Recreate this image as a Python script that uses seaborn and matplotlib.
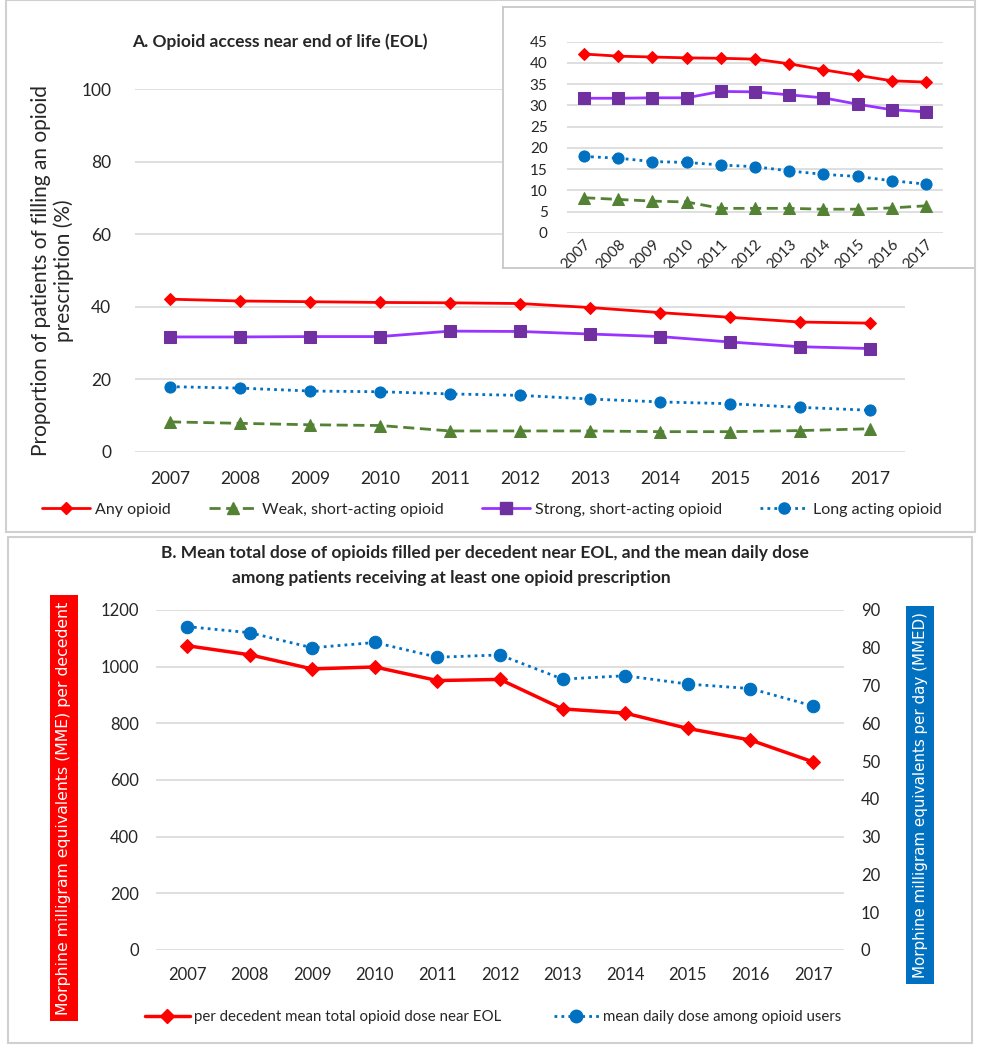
import matplotlib
matplotlib.use("Agg")
import matplotlib.pyplot as plt
import seaborn as sns
import numpy as np
from matplotlib.patches import Rectangle
from matplotlib.lines import Line2D
from matplotlib.transforms import Bbox, TransformedBbox

years = [2007, 2008, 2009, 2010, 2011, 2012, 2013, 2014, 2015, 2016, 2017]

# panel A: % of patients filling an opioid prescription
any_opioid = [42.1, 41.6, 41.4, 41.2, 41.1, 40.9, 39.8, 38.4, 37.1, 35.8, 35.5]
weak_short = [8.3, 7.9, 7.5, 7.3, 5.8, 5.8, 5.8, 5.6, 5.6, 5.9, 6.4]
strong_short = [31.7, 31.7, 31.8, 31.8, 33.3, 33.2, 32.5, 31.8, 30.3, 29.0, 28.5]
long_acting = [18.0, 17.6, 16.8, 16.6, 16.0, 15.6, 14.6, 13.8, 13.3, 12.3, 11.5]

# panel B: doses
mme_per_decedent = [1074, 1042, 992, 999, 951, 955, 851, 836, 782, 741, 664]
mmed_per_day = [85.6, 84.0, 80.0, 81.4, 77.5, 78.1, 71.7, 72.6, 70.4, 69.2, 64.6]

labels_a = ["Any opioid", "Weak, short-acting opioid",
            "Strong, short-acting opioid", "Long acting opioid"]
labels_b = ["per decedent mean total opioid dose near EOL",
            "mean daily dose among opioid users"]

RED = "#ff0000"
GREEN = "#548235"
PURPLE_LINE = "#9933ff"
PURPLE_MK = "#7030a0"
BLUE = "#0070c0"
GRID = "#d9d9d9"

sns.set_theme(style="white")
plt.rcParams["font.family"] = ["Lato", "DejaVu Sans"]

W, H = 981, 1050
fig = plt.figure(figsize=(W / 100, H / 100), dpi=100)


def rect(x0, y0, x1, y1):
    # pixel box (top-left origin) -> figure fraction [l, b, w, h]
    return [x0 / W, 1 - y1 / H, (x1 - x0) / W, (y1 - y0) / H]


def style_ax(ax):
    for s in ax.spines.values():
        s.set_visible(False)
    ax.grid(axis="y", color=GRID, lw=1.2)
    ax.grid(axis="x", visible=False)
    ax.set_axisbelow(True)
    ax.tick_params(length=0)


series_a = [
    (any_opioid, RED, RED, "D", 6, "-"),
    (weak_short, GREEN, GREEN, "^", 8, (0, (4, 2))),
    (strong_short, PURPLE_LINE, PURPLE_MK, "s", 8, "-"),
    (long_acting, BLUE, BLUE, "o", 8, (0, (1, 1.5))),
]

# panel frames
fig.patches.append(Rectangle((6 / W, 1 - 532 / H), 969 / W, 532 / H, transform=fig.transFigure,
                             fill=False, ec="#d0d0d0", lw=1.5))
fig.patches.append(Rectangle((8 / W, 1 - 1043 / H), 964 / W, 506 / H, transform=fig.transFigure,
                             fill=False, ec="#d0d0d0", lw=1.5))

# ---------- panel A main ----------
ax_a = fig.add_axes(rect(135, 89, 905, 452))
for (vals, lc, mc, mk, ms, ls), lab in zip(series_a, labels_a):
    sns.lineplot(x=years, y=vals, ax=ax_a, color=lc, marker=mk, markersize=ms,
                 markerfacecolor=mc, markeredgecolor=mc, linestyle=ls, lw=2, label=lab)
ax_a.get_legend().remove()
ax_a.set_xlim(2006.5, 2017.5)
ax_a.set_ylim(0, 100)
ax_a.set_yticks(range(0, 101, 20))
ax_a.set_xticks(years)
ax_a.set_xticklabels([str(y) for y in years])
style_ax(ax_a)
ax_a.tick_params(axis="x", pad=14, labelsize=12.5)
ax_a.tick_params(axis="y", pad=17, labelsize=12.5)
ax_a.set_ylabel("Proportion of patients of filling an opioid\nprescription (%)", fontsize=15, labelpad=5)
fig.text(280 / W, 1 - 42 / H, "A. Opioid access near end of life (EOL)", ha="center", va="center",
         fontsize=12.5, fontweight="bold")

# ---------- inset ----------
ax_box = fig.add_axes(rect(503, 7, 975, 268))
ax_box.set_xticks([])
ax_box.set_yticks([])
ax_box.set_facecolor("white")
for s in ax_box.spines.values():
    s.set_color("#c8c8c8")
    s.set_linewidth(1.3)

ax_in = fig.add_axes(rect(567, 41.7, 943, 233))
for vals, lc, mc, mk, ms, ls in series_a:
    sns.lineplot(x=years, y=vals, ax=ax_in, color=lc, marker=mk, markersize=ms,
                 markerfacecolor=mc, markeredgecolor=mc, linestyle=ls, lw=2)
ax_in.set_xlim(2006.5, 2017.5)
ax_in.set_ylim(0, 45)
ax_in.set_yticks(range(0, 46, 5))
ax_in.set_xticks(years)
ax_in.set_xticklabels([str(y) for y in years], rotation=45, ha="right", rotation_mode="anchor")
style_ax(ax_in)
ax_in.tick_params(axis="x", pad=3, labelsize=11)
ax_in.tick_params(axis="y", pad=14, labelsize=11)
clip = TransformedBbox(Bbox([[503 / W, 1 - 268 / H], [975 / W, 1 - 7 / H]]), fig.transFigure)
for lbl in ax_in.get_xticklabels():
    lbl.set_clip_box(clip)
    lbl.set_clip_on(True)

# legend A
handles_a = [Line2D([], [], color=lc, marker=mk, markersize=ms, markerfacecolor=mc,
                    markeredgecolor=mc, linestyle=ls, lw=2)
             for _, lc, mc, mk, ms, ls in series_a]
fig.legend(handles_a, labels_a, loc="center", bbox_to_anchor=(492 / W, 1 - 510 / H), ncol=4,
           frameon=False, fontsize=11.5, handlelength=3.0, columnspacing=2.4, handletextpad=0.3)

# ---------- panel B ----------
ax_b = fig.add_axes(rect(155.7, 610, 844.3, 950))
sns.lineplot(x=years, y=mme_per_decedent, ax=ax_b, color=RED, marker="D", markersize=7,
             markeredgecolor=RED, lw=2.5)
ax_b.set_xlim(2006.5, 2017.5)
ax_b.set_ylim(0, 1200)
ax_b.set_yticks(range(0, 1201, 200))
ax_b.set_xticks(years)
ax_b.set_xticklabels([str(y) for y in years])
style_ax(ax_b)
ax_b.tick_params(axis="x", pad=12, labelsize=12)
ax_b.tick_params(axis="y", pad=12, labelsize=12)

ax_b2 = ax_b.twinx()
sns.lineplot(x=years, y=mmed_per_day, ax=ax_b2, color=BLUE, marker="o", markersize=9,
             markeredgecolor=BLUE, linestyle=(0, (1, 1.5)), lw=2)
ax_b2.set_ylim(0, 90)
ax_b2.set_yticks(range(0, 91, 10))
for s in ax_b2.spines.values():
    s.set_visible(False)
ax_b2.grid(False)
ax_b2.tick_params(length=0, pad=12, labelsize=12)
ax_b2.set_ylabel("")
ax_b.set_ylabel("")

fig.text(485 / W, 1 - 553 / H,
         "B. Mean total dose of opioids filled per decedent near EOL, and the mean daily dose",
         ha="center", va="center", fontsize=12.5, fontweight="bold")
fig.text(451 / W, 1 - 578 / H, "among patients receiving at least one opioid prescription",
         ha="center", va="center", fontsize=12.5, fontweight="bold")

fig.text(64 / W, 1 - 808 / H, "Morphine milligram equivalents (MME) per decedent", rotation=90,
         ha="center", va="center", color="white", fontsize=11.3, family=["DejaVu Sans"],
         bbox=dict(boxstyle="square,pad=0.4", fc=RED, ec="none"))
fig.text(920 / W, 1 - 795 / H, "Morphine milligram equivalents per day (MMED)", rotation=90,
         ha="center", va="center", color="white", fontsize=10.9, family=["DejaVu Sans"],
         bbox=dict(boxstyle="square,pad=0.4", fc=BLUE, ec="none"))

handles_b = [Line2D([], [], color=RED, marker="D", markersize=7, lw=2.5),
             Line2D([], [], color=BLUE, marker="o", markersize=9, lw=2, linestyle=(0, (1, 1.5)))]
fig.legend(handles_b, labels_b, loc="center", bbox_to_anchor=(493 / W, 1 - 1017 / H), ncol=2,
           frameon=False, fontsize=10.8, handlelength=3.0, columnspacing=3.5, handletextpad=0.3)

fig.savefig("out.png", dpi=100)
